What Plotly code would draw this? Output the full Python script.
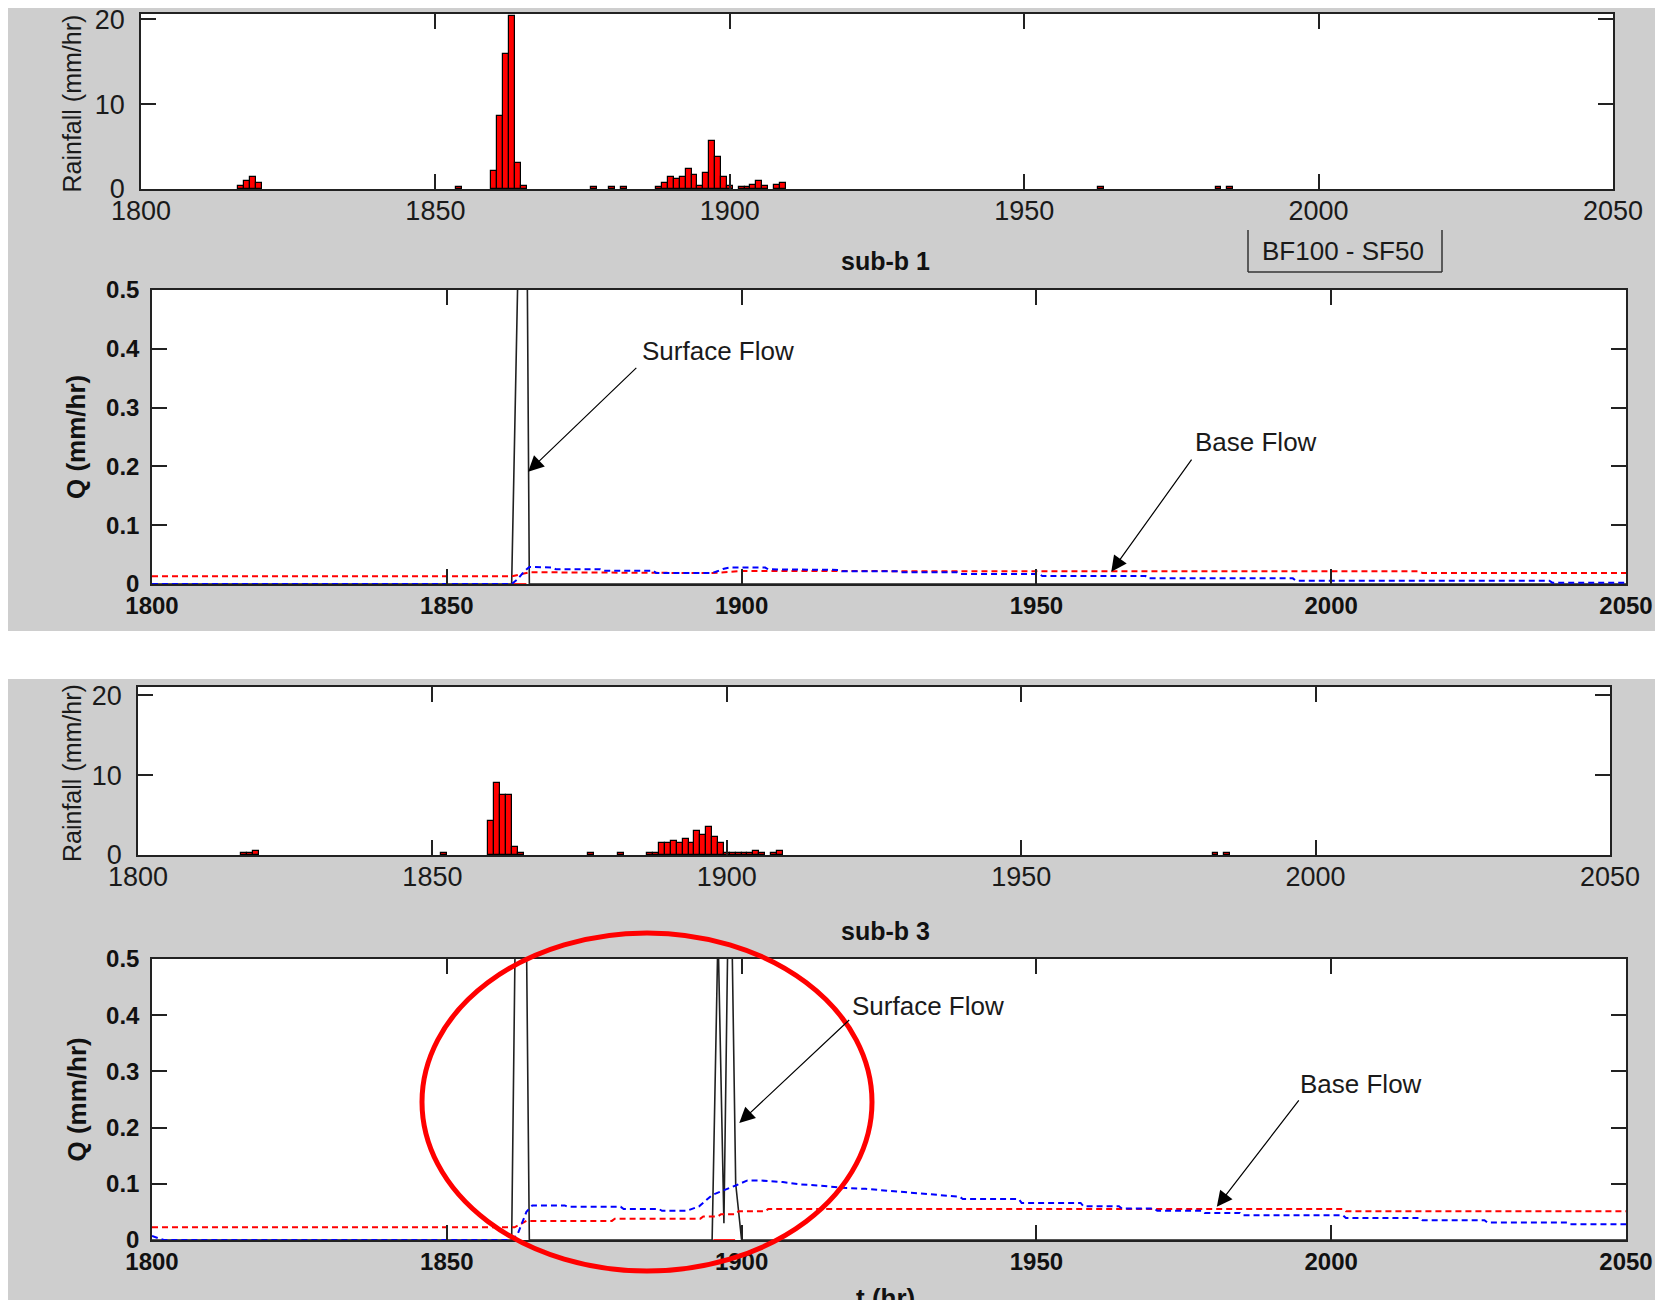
import plotly.graph_objects as go

# page body has an 8px margin: the figure is placed at (8, 8) in the 1663x1300 window
OFF = 8
W, H = 1663 - OFF, 1300 - OFF

# ---------------- data ----------------
# sub-b 1 rainfall (hour, mm/hr)
rain1_hr = [1817, 1818, 1819, 1820, 1854, 1860, 1861, 1862, 1863, 1864, 1865,
            1877, 1880, 1882, 1888, 1889, 1890, 1891, 1892, 1893, 1894, 1895,
            1896, 1897, 1898, 1899, 1900, 1902, 1903, 1904, 1905, 1906, 1908,
            1909, 1963, 1983, 1985]
rain1_mm = [0.3, 1.0, 1.45, 0.75, 0.25, 2.15, 8.55, 15.9, 20.35, 3.1, 0.3,
            0.2, 0.2, 0.2, 0.2, 0.7, 1.4, 1.2, 1.4, 2.4, 1.7, 0.3,
            1.9, 5.7, 3.8, 1.4, 0.3, 0.2, 0.2, 0.5, 1.0, 0.3, 0.5,
            0.75, 0.2, 0.2, 0.2]

# sub-b 3 rainfall
rain3_hr = [1818, 1819, 1820, 1852, 1860, 1861, 1862, 1863, 1864, 1865,
            1877, 1882, 1887, 1888, 1889, 1890, 1891, 1892, 1893, 1894,
            1895, 1896, 1897, 1898, 1899, 1900, 1901, 1902, 1903, 1904,
            1905, 1906, 1908, 1909, 1983, 1985]
rain3_mm = [0.2, 0.2, 0.5, 0.25, 4.2, 9.0, 7.5, 7.5, 1.05, 0.3,
            0.2, 0.2, 0.2, 0.2, 1.45, 1.45, 1.7, 1.45, 2.0, 1.45,
            3.0, 2.5, 3.5, 2.2, 1.5, 0.2, 0.2, 0.2, 0.2, 0.2,
            0.5, 0.2, 0.2, 0.5, 0.2, 0.2]

# sub-b 1 surface flow (black)
sf1_hr = [1800, 1861, 1862, 1863, 1864, 2050]
sf1_q = [0, 0, 0.5, 1.5, 0, 0]

# sub-b 3 surface flow (black)
sf3_hr = [1800, 1861, 1862, 1863, 1864, 1895, 1896, 1897, 1898, 1899, 1900, 2050]
sf3_q = [0, 0, 0.9, 1.1, 0, 0, 0.55, 0.03, 0.8, 0.1, 0, 0]

# red solid (zero-level segments)
rs1_hr = [1861, 1863.5]
rs1_q = [0, 0]
rs3_hr = [1895.2, 1898.9]
rs3_q = [0, 0]

# sub-b 1 base flow (blue dashed)
bf1_hr = [1800, 1861, 1862, 1863, 1864, 1868, 1868.5, 1876, 1876.5, 1885, 1885.5,
          1895, 1896, 1897, 1898, 1904, 1904.5, 1910, 1910.5, 1916.5, 1917,
          1926.5, 1927, 1936.5, 1937, 1950.5, 1951, 1968.5, 1969, 1993.5, 1994,
          2037, 2037.5, 2050]
bf1_q = [0, 0, 0.008, 0.02, 0.029, 0.028, 0.025, 0.025, 0.0226, 0.0226, 0.0186,
         0.0186, 0.022, 0.026, 0.028, 0.028, 0.025, 0.025, 0.024, 0.024, 0.0215,
         0.0215, 0.02, 0.02, 0.017, 0.017, 0.0136, 0.0136, 0.0096, 0.0096, 0.0056,
         0.0056, 0.0023, 0.0023]

# sub-b 1 red dashed
rb1_hr = [1800, 1861, 1864, 1885, 1885.5, 1895, 1900, 2015, 2015.5, 2050]
rb1_q = [0.013, 0.013, 0.02, 0.0195, 0.0186, 0.0186, 0.022, 0.0215, 0.0186, 0.0186]

# sub-b 3 base flow (blue dashed)
bf3_hr = [1800, 1802, 1861, 1862, 1863.5, 1864.5, 1870, 1870.5, 1879.5, 1880,
          1886, 1886.5, 1890.7, 1892.8, 1895, 1897.5, 1899, 1901, 1903, 1907,
          1910, 1913, 1917, 1921, 1927, 1931, 1937, 1937.5, 1947, 1947.5,
          1957.5, 1958, 1964, 1964.5, 1970, 1970.5, 1978, 1978.5, 1984.5, 1985,
          2002, 2002.5, 2015, 2015.5, 2026, 2026.5, 2040, 2040.5, 2050]
bf3_q = [0.007, 0, 0, 0.01, 0.05, 0.0615, 0.0615, 0.059, 0.059, 0.055,
         0.055, 0.052, 0.052, 0.06, 0.08, 0.09, 0.097, 0.106, 0.106, 0.103,
         0.099, 0.097, 0.093, 0.091, 0.086, 0.082, 0.077, 0.073, 0.073, 0.066,
         0.066, 0.06, 0.06, 0.056, 0.056, 0.052, 0.052, 0.048, 0.048, 0.044,
         0.044, 0.039, 0.039, 0.035, 0.035, 0.031, 0.031, 0.028, 0.028]

# sub-b 3 red dashed
rb3_hr = [1800, 1861.5, 1863.5, 1878, 1878.5, 1893, 1893.5, 1896, 1896.5,
          1899, 1899.5, 1904, 1904.5, 2002, 2002.5, 2050]
rb3_q = [0.0225, 0.0225, 0.034, 0.034, 0.038, 0.038, 0.042, 0.042, 0.046,
         0.046, 0.051, 0.051, 0.055, 0.055, 0.051, 0.051]

x_ticks = [1800, 1850, 1900, 1950, 2000, 2050]
rain_ticks = [0, 10, 20]
q_ticks = [0, 0.1, 0.2, 0.3, 0.4, 0.5]
q_ticktext = ["0", "0.1", "0.2", "0.3", "0.4", "0.5"]

# ---------------- layout helpers (window pixels -> paper) ----------------
def fx(x):
    return (x - OFF) / W

def fy(y):
    return 1 - (y - OFF) / H

# axes boxes in window pixels: left, right, top, bottom
BOX = {
    1: (141, 1613, 14, 189),
    2: (152, 1626, 290, 584),
    3: (138, 1610, 687, 855),
    4: (152, 1626, 959, 1240),
}

FONT = "Liberation Sans, Arial, sans-serif"
INK = "#1a1a1a"
AX = "#222222"

fig = go.Figure()

bar_style = dict(width=1, marker=dict(color="#ff0000", line=dict(color="#000000", width=1.2)),
                 showlegend=False)
fig.add_bar(x=rain1_hr, y=rain1_mm, xaxis="x", yaxis="y", **bar_style)
fig.add_bar(x=rain3_hr, y=rain3_mm, xaxis="x3", yaxis="y3", **bar_style)

def flow(xa, ya, sf_t, sf_q, rs_t, rs_q, rb_t, rb_q, bf_t, bf_q):
    fig.add_scatter(x=sf_t, y=sf_q, mode="lines", line=dict(color="#202020", width=1.6),
                    xaxis=xa, yaxis=ya, showlegend=False)
    fig.add_scatter(x=rs_t, y=rs_q, mode="lines", line=dict(color="#ff2020", width=2),
                    xaxis=xa, yaxis=ya, showlegend=False)
    fig.add_scatter(x=rb_t, y=rb_q, mode="lines",
                    line=dict(color="#ff0000", width=2, dash="6px,4px"),
                    xaxis=xa, yaxis=ya, showlegend=False)
    fig.add_scatter(x=bf_t, y=bf_q, mode="lines",
                    line=dict(color="#0000ff", width=2, dash="6px,4px"),
                    xaxis=xa, yaxis=ya, showlegend=False)

flow("x2", "y2", sf1_hr, sf1_q, rs1_hr, rs1_q, rb1_hr, rb1_q, bf1_hr, bf1_q)
flow("x4", "y4", sf3_hr, sf3_q, rs3_hr, rs3_q, rb3_hr, rb3_q, bf3_hr, bf3_q)

layout = dict(
    width=W, height=H, autosize=False,
    margin=dict(l=0, r=0, t=0, b=0, pad=0, autoexpand=False),
    paper_bgcolor="#cecece", plot_bgcolor="#ffffff",
    bargap=0, barmode="overlay", showlegend=False,
)

for i in range(1, 5):
    l, r, t, b = BOX[i]
    is_q = i in (2, 4)
    sfx = "" if i == 1 else str(i)
    if is_q:
        tf = dict(family=FONT, size=24, color="#111111", weight="bold")
    else:
        tf = dict(family=FONT, size=27, color=INK)
    common = dict(ticks="inside", ticklen=15, tickwidth=1.5, tickcolor=AX,
                  showline=True, linecolor=AX, linewidth=1.5, mirror="allticks",
                  showgrid=False, zeroline=False, tickfont=tf, fixedrange=True,
                  automargin=False, ticklabeloverflow="allow")
    layout["xaxis" + sfx] = dict(domain=[fx(l), fx(r)], range=[1800, 2050],
                                 tickvals=x_ticks, anchor="y" + sfx,
                                 ticklabelstandoff=-1 if is_q else -3, **common)
    if is_q:
        yax = dict(range=[0, 0.5], tickvals=q_ticks, ticktext=q_ticktext)
    else:
        yax = dict(range=[0, 20.6] if i == 1 else [0, 21.05], tickvals=rain_ticks)
    layout["yaxis" + sfx] = dict(domain=[fy(b), fy(t)], anchor="x" + sfx,
                                 ticklabelstandoff=6 if is_q else 9, **yax, **common)

fig.update_layout(**layout)

# ---------------- background strip (white gap between panels), box, ellipse ----------------
shapes = [
    dict(type="rect", xref="paper", yref="paper", x0=0, x1=1, y0=fy(679), y1=fy(631),
         fillcolor="#ffffff", line=dict(width=0), layer="below"),
    # BF100 - SF50 box (open top)
    dict(type="line", xref="paper", yref="paper", x0=fx(1248), x1=fx(1248), y0=fy(230), y1=fy(272),
         line=dict(color="#333333", width=1.5)),
    dict(type="line", xref="paper", yref="paper", x0=fx(1248), x1=fx(1442), y0=fy(272), y1=fy(272),
         line=dict(color="#333333", width=1.5)),
    dict(type="line", xref="paper", yref="paper", x0=fx(1442), x1=fx(1442), y0=fy(230), y1=fy(272),
         line=dict(color="#333333", width=1.5)),
    # red ellipse
    dict(type="circle", xref="paper", yref="paper", x0=fx(422), x1=fx(872), y0=fy(1271), y1=fy(933),
         line=dict(color="#ff0000", width=5), layer="above"),
]
fig.update_layout(shapes=shapes)

ann = []
# axis titles
for i in (1, 3):
    l, r, t, b = BOX[i]
    ann.append(dict(text="Rainfall (mm/hr)", xref="paper", yref="paper", x=fx(72), y=fy((t + b) / 2 + 2),
                    textangle=-90, showarrow=False, xanchor="center", yanchor="middle",
                    font=dict(family=FONT, size=25, color=INK)))
for i in (2, 4):
    l, r, t, b = BOX[i]
    ann.append(dict(text="<b>Q (mm/hr)</b>", xref="paper", yref="paper", x=fx(76), y=fy((t + b) / 2),
                    textangle=-90, showarrow=False, xanchor="center", yanchor="middle",
                    font=dict(family=FONT, size=26, color="#111111")))
ann.append(dict(text="<b>sub-b 1</b>", xref="paper", yref="paper", x=fx(885), y=fy(261),
                showarrow=False, xanchor="center", yanchor="middle",
                font=dict(family=FONT, size=25, color="#111111")))
ann.append(dict(text="<b>sub-b 3</b>", xref="paper", yref="paper", x=fx(885), y=fy(931),
                showarrow=False, xanchor="center", yanchor="middle",
                font=dict(family=FONT, size=25, color="#111111")))
ann.append(dict(text="<b>t (hr)</b>", xref="paper", yref="paper", x=fx(885), y=fy(1281),
                showarrow=False, xanchor="center", yanchor="top",
                font=dict(family=FONT, size=26, color="#111111")))
ann.append(dict(text="BF100 - SF50", xref="paper", yref="paper", x=fx(1343), y=fy(251),
                showarrow=False, xanchor="center", yanchor="middle",
                font=dict(family=FONT, size=26, color=INK)))

# arrows + labels
arrow_specs = [
    ("x2", "y2", 1863.8, 0.191, 1882.4, 0.37, "Surface Flow", 1882.8, 0.396),
    ("x2", "y2", 1962.7, 0.021, 1976.5, 0.214, "Base Flow", 1976.6, 0.2415),
    ("x4", "y4", 1899.6, 0.208, 1918.5, 0.394, "Surface Flow", 1918.3, 0.417),
    ("x4", "y4", 1980.6, 0.059, 1994.7, 0.251, "Base Flow", 1994.4, 0.278),
]
for xa, ya, hx, hy, tx, ty, label, lx, ly in arrow_specs:
    ann.append(dict(text="", xref=xa, yref=ya, axref=xa, ayref=ya, x=hx, y=hy, ax=tx, ay=ty,
                    showarrow=True, arrowhead=2, arrowsize=2.6, arrowwidth=1.2,
                    arrowcolor="#000000", standoff=0, startstandoff=0))
    ann.append(dict(text=label, xref=xa, yref=ya, x=lx, y=ly, showarrow=False,
                    xanchor="left", yanchor="middle",
                    font=dict(family=FONT, size=26, color=INK)))

fig.update_layout(annotations=ann)

fig.write_html("out.html")
